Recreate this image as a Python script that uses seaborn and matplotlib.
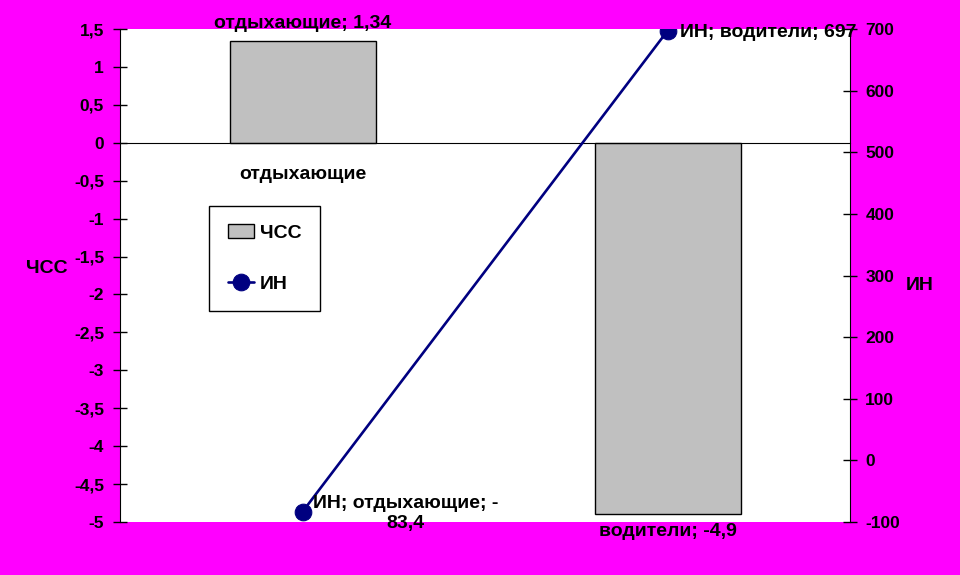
import numpy as np
import matplotlib
matplotlib.use("Agg")
import matplotlib.pyplot as plt
from matplotlib.ticker import FuncFormatter, FixedLocator
import seaborn as sns

# ---- data ----
categories = ["отдыхающие", "водители"]
chss_values = [1.34, -4.9]
in_values = [-83.4, 697]
chss_label = "ЧСС"
in_label = "ИН"
left_ticks = [1.5, 1, 0.5, 0, -0.5, -1, -1.5, -2, -2.5, -3, -3.5, -4, -4.5, -5]
right_ticks = [700, 600, 500, 400, 300, 200, 100, 0, -100]

sns.set_style("white")
plt.rcParams["font.family"] = ["Liberation Sans", "DejaVu Sans"]
plt.rcParams["font.weight"] = "bold"
plt.rcParams["axes.unicode_minus"] = False
for k in ["text.color", "axes.labelcolor", "xtick.color", "ytick.color", "axes.edgecolor"]:
    plt.rcParams[k] = "black"

MAG = "#FF00FF"
NAVY = "#000080"
GRAY = "#C0C0C0"

fig = plt.figure(figsize=(9.6, 5.75), dpi=100, facecolor=MAG)
ax = fig.add_axes([120 / 960, 1 - 522 / 575, 730 / 960, 493 / 575])
ax.set_facecolor("white")

x_pos = np.arange(len(categories))
sns.barplot(x=x_pos, y=chss_values, ax=ax, color=GRAY, width=0.4,
            edgecolor="black", linewidth=1, saturation=1, native_scale=True)
ax.set_xlim(-0.5, 1.5)
ax.set_ylim(-5, 1.5)
if ax.get_legend() is not None:
    ax.get_legend().remove()

ax2 = ax.twinx()
sns.lineplot(x=x_pos, y=in_values, ax=ax2, color=NAVY, linewidth=1.9,
             marker="o", markersize=12, markeredgecolor=NAVY,
             markerfacecolor=NAVY, legend=False)
ax2.set_ylim(-100, 700)
ax2.set_xlim(-0.5, 1.5)

fmt = FuncFormatter(lambda v, p: f"{v:g}".replace(".", ","))
TICK_FS = 12.5

# left axis
ax.yaxis.set_major_locator(FixedLocator(left_ticks))
ax.yaxis.set_major_formatter(fmt)
ax.tick_params(axis="y", direction="inout", length=10, width=1, pad=6.5,
               labelsize=TICK_FS, colors="black", left=True)
for lab in ax.get_yticklabels():
    lab.set_fontweight("bold")

# right axis
ax2.yaxis.set_major_locator(FixedLocator(right_ticks))
ax2.yaxis.set_major_formatter(fmt)
ax2.tick_params(axis="y", direction="inout", length=10, width=1, pad=6,
                labelsize=TICK_FS, colors="black", right=True)
for lab in ax2.get_yticklabels():
    lab.set_fontweight("bold")

# x axis at zero
ax.spines["bottom"].set_position(("data", 0))
ax.spines["top"].set_visible(False)
ax.spines["right"].set_visible(False)
for s in ["top", "bottom", "left"]:
    ax2.spines[s].set_visible(False)

ax.set_xticks(x_pos)
ax.set_xticklabels(categories, fontsize=14, fontweight="bold")
ax.tick_params(axis="x", which="major", length=0, pad=16.5)
ax.set_xticks([0.5], minor=True)
ax.tick_params(axis="x", which="minor", direction="inout", length=10, width=1)
ax.set_xlabel("")

# axis titles
ax.set_ylabel(chss_label, rotation=0, fontsize=14, fontweight="bold")
ax.yaxis.set_label_coords(-0.1, 0.497)
ax2.set_ylabel(in_label, rotation=0, fontsize=14, fontweight="bold")
ax2.yaxis.set_label_coords(1.096, 0.497)

# data labels
fs = 14
def fnum(v):
    return f"{v:g}".replace(".", ",")

ax.annotate(f"{categories[0]}; {fnum(chss_values[0])}", xy=(x_pos[0], chss_values[0]),
            xytext=(0, 13), textcoords="offset points", ha="center", va="center",
            fontsize=fs, fontweight="bold", annotation_clip=False)
ax.annotate(f"{categories[1]}; {fnum(chss_values[1])}", xy=(x_pos[1], chss_values[1]),
            xytext=(0, -12), textcoords="offset points", ha="center", va="center",
            fontsize=fs, fontweight="bold", annotation_clip=False)
ax2.annotate(f"{in_label}; {categories[1]}; {fnum(in_values[1])}", xy=(x_pos[1], in_values[1]),
             xytext=(9, -1.5), textcoords="offset points", ha="left", va="center",
             fontsize=fs, fontweight="bold", annotation_clip=False, zorder=5)
ax2.annotate(f"{in_label}; {categories[0]}; -\n{fnum(abs(in_values[0]))}",
             xy=(x_pos[0], in_values[0]),
             xytext=(74, -1), textcoords="offset points", ha="center", va="center",
             multialignment="center", linespacing=1.25,
             fontsize=fs, fontweight="bold", annotation_clip=False, zorder=5)

# legend
handles = [ax.containers[0], ax2.get_lines()[0]]
leg = ax2.legend(handles, [chss_label, in_label], loc="upper left",
                 bbox_to_anchor=(0.122, 0.641), frameon=True, fancybox=False,
                 edgecolor="black", framealpha=1, prop={"size": 14, "weight": "bold"},
                 labelspacing=1.7, handlelength=1.35, handletextpad=0.3,
                 borderpad=0.95, borderaxespad=0)
leg.get_frame().set_linewidth(1)

fig.savefig("out.png", dpi=100, facecolor=MAG)
